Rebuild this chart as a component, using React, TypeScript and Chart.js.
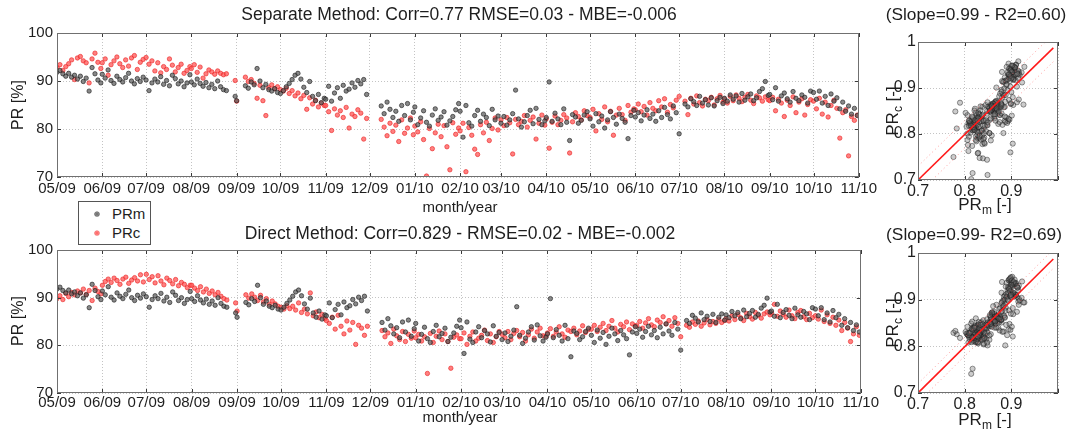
import { useEffect, useRef } from "react";
import { Chart, registerables } from "chart.js";

Chart.register(...registerables);

const FONT = '"Liberation Sans", Arial, Helvetica, sans-serif';

// Month axis: first day of each month, counted in days from 1 May 2009
const MONTH_LABELS = [
  "05/09", "06/09", "07/09", "08/09", "09/09", "10/09", "11/09", "12/09", "01/10",
  "02/10", "03/10", "04/10", "05/10", "06/10", "07/10", "08/10", "09/10", "10/10", "11/10",
];
const MONTH_START = [0, 31, 61, 92, 123, 153, 184, 214, 245, 276, 304, 335, 365, 396, 426, 457, 488, 518, 549];
// one reading every second day inside each month
const DAY_STEP = 2;

const PR_TICKS = [70, 80, 90, 100];
const SCATTER_TICKS = [0.7, 0.8, 0.9, 1.0];
const SCATTER_X_LABELS = ["0.7", "0.8", "0.9", ""];
const SCATTER_Y_LABELS = ["0.7", "0.8", "0.9", "1"];

// Fitted line of PRc against PRm
const FIT_SLOPE = 0.99;
const FIT_INTERCEPT = 0.007;
const FIT_X = [0.7, 0.99];
const RMSE_SEPARATE = 0.03;
const RMSE_DIRECT = 0.02;

type Row = (number | null)[];

// Measured performance ratio PRm [%], one row per month
const PR_MEASURED: Row[] = [
  [91.8, 92.2, 91.5, 91.0, 91.6, 90.8, 91.2, 90.4, 91.0, 89.9, 90.6, 87.9, 92.8, 91.5, 90.2, 89.6],
  [91.4, 90.6, 92.3, 90.1, 89.5, 91.0, 90.3, 89.8, 90.7, 91.6, 90.0, 89.4, 90.5, 89.9, 90.8],
  [90.2, 88.0, 89.6, 90.4, 89.8, 90.9, 89.3, 90.1, 89.0, 91.2, 90.5, 89.4, 90.0, 88.8, 89.6, 91.3],
  [89.8, 89.2, 90.4, 89.5, 88.9, 89.7, 88.6, 89.3, 88.4, 90.0, 88.8, 88.2, 88.0, null, null, 86.8],
  [85.9, null, null, 89.0, 88.5, 89.8, 89.2, 92.6, 90.0, 88.6, 89.3, 88.2, 87.9, 88.4, 87.6],
  [87.4, 88.0, 88.8, 89.5, 90.3, 91.2, 91.6, 90.4, 88.7, 87.6, 89.9, 86.8, 85.9, 87.2, 85.5, 86.4],
  [86.2, 88.9, 85.8, 87.5, 88.6, 86.4, 89.1, 87.9, 88.3, 89.6, 88.7, 90.1, 89.4, 90.3, 87.2],
  [null, null, null, null, 84.8, 83.2, 85.6, 84.1, 82.4, 83.7, 81.6, 84.9, 82.8, 85.3, 81.9, 83.5],
  [84.6, 80.9, 82.3, 83.8, 81.4, 80.6, 82.9, 84.2, 81.8, 82.5, 83.6, 80.8, 81.7, 82.6, 84.0, 85.3],
  [83.7, 78.3, 84.9, 81.3, 80.6, 82.8, 83.9, 81.6, 83.1, 82.4, 80.7, 84.1, 81.9, 82.7],
  [81.2, 82.6, 80.8, 81.9, 83.2, 88.1, 82.1, 80.4, 81.5, 82.8, 83.9, 81.1, 84.3, 82.0, 80.9, 81.7],
  [82.4, 89.8, 81.6, 83.3, 82.1, 80.9, 84.2, 81.4, 77.6, 83.0, 82.5, 81.2, 81.8, 82.9, 83.6],
  [82.1, 80.6, 83.2, 81.5, 82.7, 80.2, 81.9, 83.6, 82.4, 81.0, 83.1, 82.2, 81.4, 78.0, 82.8, 83.9],
  [82.5, 83.4, 81.7, 82.9, 84.0, 82.2, 83.1, 81.6, 83.8, 82.4, 84.5, 83.0, 82.1, 84.8, 83.4],
  [79.0, null, 85.2, 84.6, 86.3, 85.7, 84.9, 86.8, 85.4, 86.1, 85.0, 86.5, 84.8, 85.9, 86.6, 85.3],
  [86.4, 85.8, 87.1, 86.2, 86.9, 85.6, 87.4, 86.0, 86.7, 87.3, 85.9, 86.5, 87.8, 88.4, 89.9, 87.0],
  [87.2, 86.1, 88.6, 85.8, 86.9, 87.5, 86.3, 85.6, 87.8, 86.4, 85.9, 87.1, 86.6, 85.4, 87.9],
  [87.6, 86.2, 87.9, 85.4, 86.8, 84.9, 87.3, 85.8, 86.5, 84.2, 85.6, 83.7, 84.8, 83.1, 84.3, 82.8],
];

// Calculated PRc [%] with the separate method
const PR_CALC_SEPARATE: Row[] = [
  [92.8, 93.4, 92.2, 93.0, 93.6, 94.4, 90.3, 94.8, 95.1, 94.2, 93.8, 89.6, 94.6, 95.8, 93.9, 92.6],
  [93.8, 94.6, 91.2, 93.4, 94.2, 95.0, 93.6, 92.8, 94.4, 93.1, 94.8, 95.3, 92.4, 93.9, 94.5],
  [94.9, 93.5, 94.2, 92.1, 93.8, 91.7, 93.0, 92.4, 94.6, 93.3, 91.9, 92.8, 93.5, 91.6, 92.2, 93.0],
  [92.6, 93.4, 91.8, 92.9, 90.6, 91.5, 92.3, 91.9, 91.4, 92.1, 91.6, 91.3, 91.5, null, null, 90.1],
  [85.8, null, null, 90.8, 89.9, 90.3, 89.5, 86.4, 89.1, 85.9, 82.8, 88.6, 89.2, 88.4, 88.8],
  [88.2, 87.9, 88.5, 87.4, 88.0, 86.9, 87.5, 86.3, 87.0, 84.1, 86.5, 85.2, 86.0, 84.6, 85.4, 84.9],
  [84.9, 83.6, 79.7, 84.2, 82.9, 83.8, 82.4, 84.5, 80.2, 83.1, 82.6, 84.0, 83.3, 77.9, 82.2],
  [null, null, null, null, 82.0, 80.4, 78.6, 81.2, 79.5, 80.8, 77.4, 81.9, 79.1, 80.2, 82.3, 78.8],
  [80.6, 79.4, 81.5, 77.8, 70.2, 80.1, 75.9, 79.2, 81.0, 78.4, 80.7, 76.3, 71.5, 81.3, 78.9, 80.2],
  [79.6, 81.2, 71.1, 80.3, 78.7, 75.8, 74.7, 80.9, 79.2, 81.4, 77.6, 80.1, 82.3, 79.8],
  [81.9, 80.7, 82.4, 81.3, 74.8, 82.0, 80.9, 81.6, 82.8, 80.4, 81.8, 82.5, 77.9, 81.2, 82.9, 80.8],
  [82.1, 76.0, 81.4, 82.7, 80.9, 81.8, 83.0, 82.3, 75.0, 81.5, 83.4, 82.6, 81.9, 83.8, 82.8],
  [82.4, 84.1, 79.6, 83.2, 82.0, 84.6, 81.5, 83.7, 78.7, 82.9, 84.3, 83.0, 81.8, 84.9, 83.5, 84.2],
  [84.0, 85.2, 83.6, 84.7, 82.9, 85.5, 84.3, 83.8, 85.9, 84.6, 86.3, 83.5, 85.1, 84.4, 86.0],
  [86.8, null, 85.8, 83.0, 86.4, 85.2, 86.9, 85.5, 84.8, 86.2, 85.9, 86.6, 85.0, 86.3, 87.0, 85.6],
  [86.2, 85.4, 86.8, 85.9, 87.1, 86.4, 85.7, 86.6, 87.2, 86.0, 85.3, 86.9, 86.5, 85.8, 86.7, 86.1],
  [85.9, 86.6, 83.8, 86.2, 85.4, 82.6, 86.0, 84.9, 86.7, 83.4, 85.6, 86.3, 82.9, 85.1, 86.1],
  [85.8, 84.2, 86.4, 83.1, 85.6, 82.5, 84.9, 86.0, 84.3, 78.1, 83.4, 84.0, 74.4, 82.6, 81.8, 82.9],
];

// Calculated PRc [%] with the direct method
const PR_CALC_DIRECT: Row[] = [
  [89.8, 90.4, 89.6, 90.9, 90.2, 91.1, 90.6, 91.4, 91.0, 91.8, 90.7, 91.5, 89.4, 92.0, 91.3, 90.8],
  [92.6, 93.4, 93.9, 93.2, 94.1, 93.6, 92.8, 93.9, 94.3, 93.0, 93.7, 94.2, 93.5, 94.8, 93.3],
  [94.9, 93.8, 94.4, 93.1, 94.6, 93.5, 92.7, 94.1, 93.6, 92.9, 93.8, 92.5, 93.2, 92.8, 92.1, 92.6],
  [92.6, 92.0, 91.5, 92.3, 91.2, 91.8, 90.9, 91.4, 90.6, 91.1, 90.3, 89.8, 89.5, null, null, 88.9],
  [87.2, null, null, 90.6, 89.9, 90.8, 90.1, 89.4, 90.5, 89.1, 89.8, 88.6, 89.3, 88.7, 88.2],
  [88.0, 87.6, 88.3, 87.7, 88.2, 87.4, 88.9, 86.9, 87.6, 86.6, 91.0, 86.2, 87.0, 85.8, 86.5, 85.6],
  [85.2, 84.6, 85.9, 83.4, 86.3, 84.0, 82.4, 85.1, 83.2, 84.8, 80.2, 84.2, 83.6, 82.1, 84.0],
  [null, null, null, null, 83.1, 81.8, 82.6, 80.4, 83.4, 82.0, 81.2, 82.9, 80.8, 82.3, 81.5, 83.0],
  [81.6, 82.3, 80.9, 81.8, 74.1, 82.5, 80.6, 81.9, 83.0, 81.2, 82.4, 80.8, 75.2, 81.7, 82.2, 81.4],
  [81.4, 82.6, 80.2, 81.9, 82.8, 80.9, 81.5, 82.1, 83.2, 81.0, 82.4, 80.6, 81.8, 82.9],
  [82.3, 81.6, 82.9, 81.2, 82.5, 83.1, 81.8, 82.7, 80.9, 82.2, 83.4, 81.5, 82.8, 83.6, 82.0, 81.9],
  [82.6, 83.5, 81.9, 82.8, 83.9, 82.4, 81.7, 83.2, 82.9, 83.6, 82.2, 83.0, 84.1, 82.7, 83.3],
  [83.4, 84.2, 82.9, 83.8, 84.6, 83.1, 84.0, 85.2, 83.6, 82.8, 84.4, 83.9, 84.9, 83.3, 84.5, 84.1],
  [84.1, 85.0, 83.6, 84.7, 85.6, 84.3, 83.9, 85.3, 84.8, 86.0, 84.5, 85.2, 84.0, 85.8, 84.6],
  [81.8, null, 84.2, 83.8, 84.9, 84.4, 85.1, 84.0, 84.7, 85.4, 84.3, 85.0, 84.6, 85.5, 84.8, 85.2],
  [85.6, 85.1, 86.2, 85.4, 86.5, 85.8, 85.2, 86.7, 86.0, 85.5, 86.9, 86.3, 85.7, 86.6, 87.0, 86.4],
  [86.8, 88.6, 86.1, 87.2, 86.5, 85.9, 87.4, 86.2, 85.6, 86.9, 87.3, 86.0, 85.4, 86.7, 85.8],
  [86.2, 85.5, 87.4, 85.0, 86.4, 84.6, 85.9, 84.2, 85.3, 83.1, 84.8, 83.6, 80.8, 82.4, 83.9, 82.1],
];

type Pt = { x: number; y: number };

function toSeries(rows: Row[]): Pt[] {
  const out: Pt[] = [];
  rows.forEach((row, m) => {
    row.forEach((v, j) => {
      if (v !== null) out.push({ x: MONTH_START[m] + j * DAY_STEP, y: v });
    });
  });
  return out;
}

function toPairs(measured: Row[], calc: Row[]): Pt[] {
  const out: Pt[] = [];
  measured.forEach((row, m) => {
    row.forEach((pm, j) => {
      const pc = calc[m][j];
      if (pm !== null && pc !== null && pc !== undefined) out.push({ x: pm / 100, y: pc / 100 });
    });
  });
  return out;
}

function fitLine(offset: number): Pt[] {
  return FIT_X.map((x) => ({ x, y: FIT_SLOPE * x + FIT_INTERCEPT + offset }));
}

type Part = { t: string; sub?: boolean };
type Label = { parts: Part[]; x: number; y: number; size: number; rotate?: boolean };

function decorPlugin(labels: Label[]) {
  return {
    id: "panelDecor",
    afterDraw(chart: any) {
      const { ctx, chartArea: a, scales } = chart;
      ctx.save();
      // inward tick marks on all four sides
      ctx.strokeStyle = "#3a3a3a";
      ctx.lineWidth = 1;
      ctx.beginPath();
      for (const t of scales.x.ticks) {
        const px = Math.round(scales.x.getPixelForValue(t.value)) + 0.5;
        ctx.moveTo(px, a.bottom);
        ctx.lineTo(px, a.bottom - 4);
        ctx.moveTo(px, a.top);
        ctx.lineTo(px, a.top + 4);
      }
      for (const t of scales.y.ticks) {
        const py = Math.round(scales.y.getPixelForValue(t.value)) + 0.5;
        ctx.moveTo(a.left, py);
        ctx.lineTo(a.left + 4, py);
        ctx.moveTo(a.right, py);
        ctx.lineTo(a.right - 4, py);
      }
      ctx.stroke();
      // axes box
      ctx.strokeStyle = "#707070";
      ctx.strokeRect(
        Math.round(a.left) + 0.5,
        Math.round(a.top) + 0.5,
        Math.round(a.right - a.left) - 1,
        Math.round(a.bottom - a.top) - 1
      );
      // titles and axis labels
      ctx.fillStyle = "#1e1e1e";
      ctx.textBaseline = "middle";
      ctx.textAlign = "left";
      for (const lab of labels) {
        const big = `${lab.size}px ${FONT}`;
        const small = `${Math.round(lab.size * 0.72)}px ${FONT}`;
        let total = 0;
        const widths = lab.parts.map((p) => {
          ctx.font = p.sub ? small : big;
          const w = ctx.measureText(p.t).width;
          total += w;
          return w;
        });
        ctx.save();
        ctx.translate(lab.x, lab.y);
        if (lab.rotate) ctx.rotate(-Math.PI / 2);
        let cx = -total / 2;
        lab.parts.forEach((p, i) => {
          ctx.font = p.sub ? small : big;
          ctx.fillText(p.t, cx, p.sub ? lab.size * 0.35 : 0);
          cx += widths[i];
        });
        ctx.restore();
      }
      ctx.restore();
    },
  };
}

const GRID = { color: "#c4c4c4", drawTicks: false, lineWidth: 1 };
const BORDER = { display: false, dash: [1, 2] };

function timeConfig(calc: Row[], labels: Label[], padTop: number, axisH: number, tickPad: number) {
  return {
    type: "scatter",
    data: {
      datasets: [
        {
          label: "PRm",
          data: toSeries(PR_MEASURED),
          pointRadius: 2.2,
          pointBackgroundColor: "rgba(85,85,85,0.7)",
          pointBorderColor: "rgba(25,25,25,0.75)",
          pointBorderWidth: 0.8,
          order: 0,
        },
        {
          label: "PRc",
          data: toSeries(calc),
          pointRadius: 2.2,
          pointBackgroundColor: "rgba(255,85,85,0.75)",
          pointBorderColor: "rgba(235,40,40,0.8)",
          pointBorderWidth: 0.8,
          order: 1,
        },
      ],
    },
    options: {
      responsive: false,
      animation: false,
      layout: { padding: { top: padTop, right: 16, left: 0, bottom: 0 } },
      plugins: { legend: { display: false }, title: { display: false }, tooltip: { enabled: false } },
      scales: {
        x: {
          type: "linear",
          min: MONTH_START[0],
          max: MONTH_START[MONTH_START.length - 1],
          afterBuildTicks: (s: any) => {
            s.ticks = MONTH_START.map((v) => ({ value: v }));
          },
          afterFit: (s: any) => {
            s.height = axisH;
          },
          ticks: {
            autoSkip: false,
            maxRotation: 0,
            padding: tickPad,
            color: "#1e1e1e",
            font: { family: FONT, size: 15 },
            callback: (_v: any, i: number) => MONTH_LABELS[i],
          },
          grid: GRID,
          border: BORDER,
        },
        y: {
          type: "linear",
          min: 70,
          max: 100,
          afterBuildTicks: (s: any) => {
            s.ticks = PR_TICKS.map((v) => ({ value: v }));
          },
          afterFit: (s: any) => {
            s.width = 57;
          },
          ticks: { padding: 4, color: "#1e1e1e", font: { family: FONT, size: 15 } },
          grid: GRID,
          border: BORDER,
        },
      },
    },
    plugins: [decorPlugin(labels)],
  };
}

function scatterConfig(calc: Row[], rmse: number, labels: Label[], padTop: number, axisH: number) {
  return {
    type: "scatter",
    data: {
      datasets: [
        {
          label: "fit",
          data: fitLine(0),
          showLine: true,
          pointRadius: 0,
          borderColor: "#ff1a1a",
          borderWidth: 1.6,
          order: 0,
        },
        {
          label: "fit+rmse",
          data: fitLine(rmse),
          showLine: true,
          pointRadius: 0,
          borderColor: "rgba(255,120,120,0.7)",
          borderWidth: 1,
          borderDash: [1, 3],
          order: 1,
        },
        {
          label: "fit-rmse",
          data: fitLine(-rmse),
          showLine: true,
          pointRadius: 0,
          borderColor: "rgba(255,120,120,0.7)",
          borderWidth: 1,
          borderDash: [1, 3],
          order: 1,
        },
        {
          label: "pairs",
          data: toPairs(PR_MEASURED, calc),
          pointRadius: 2.6,
          pointBackgroundColor: "rgba(110,110,110,0.35)",
          pointBorderColor: "rgba(20,20,20,0.55)",
          pointBorderWidth: 0.8,
          order: 2,
        },
      ],
    },
    options: {
      responsive: false,
      animation: false,
      layout: { padding: { top: padTop, right: 14, left: 0, bottom: 0 } },
      plugins: { legend: { display: false }, title: { display: false }, tooltip: { enabled: false } },
      scales: {
        x: {
          type: "linear",
          min: 0.7,
          max: 1.0,
          afterBuildTicks: (s: any) => {
            s.ticks = SCATTER_TICKS.map((v) => ({ value: v }));
          },
          afterFit: (s: any) => {
            s.height = axisH;
          },
          ticks: {
            autoSkip: false,
            maxRotation: 0,
            padding: 2,
            color: "#1e1e1e",
            font: { family: FONT, size: 16 },
            callback: (_v: any, i: number) => SCATTER_X_LABELS[i],
          },
          grid: GRID,
          border: BORDER,
        },
        y: {
          type: "linear",
          min: 0.7,
          max: 1.0,
          afterBuildTicks: (s: any) => {
            s.ticks = SCATTER_TICKS.map((v) => ({ value: v }));
          },
          afterFit: (s: any) => {
            s.width = 38;
          },
          ticks: {
            padding: 2,
            color: "#1e1e1e",
            font: { family: FONT, size: 16 },
            callback: (_v: any, i: number) => SCATTER_Y_LABELS[i],
          },
          grid: GRID,
          border: BORDER,
        },
      },
    },
    plugins: [decorPlugin(labels)],
  };
}

function Panel({ config, left, top, width, height }: any) {
  const ref = useRef<HTMLCanvasElement | null>(null);
  useEffect(() => {
    if (!ref.current) return;
    const chart = new Chart(ref.current, config);
    return () => chart.destroy();
  }, [config]);
  return (
    <canvas
      ref={ref}
      width={width}
      height={height}
      style={{ position: "absolute", left, top, width, height }}
    />
  );
}

const PRC_LABEL: Part[] = [{ t: "PR" }, { t: "c", sub: true }, { t: " [-]" }];
const PRM_LABEL: Part[] = [{ t: "PR" }, { t: "m", sub: true }, { t: " [-]" }];

const topTime = timeConfig(
  PR_CALC_SEPARATE,
  [
    { parts: [{ t: "Separate Method: Corr=0.77 RMSE=0.03 - MBE=-0.006" }], x: 459, y: 15, size: 17.5 },
    { parts: [{ t: "PR [%]" }], x: 19, y: 105, size: 16, rotate: true },
    { parts: [{ t: "month/year" }], x: 460, y: 208, size: 15 },
  ],
  33,
  43,
  3
);

const bottomTime = timeConfig(
  PR_CALC_DIRECT,
  [
    { parts: [{ t: "Direct Method: Corr=0.829 - RMSE=0.02 - MBE=-0.002" }], x: 460, y: 14, size: 17.5 },
    { parts: [{ t: "PR [%]" }], x: 19, y: 101, size: 16, rotate: true },
    { parts: [{ t: "month/year" }], x: 460, y: 198, size: 15 },
  ],
  30,
  45,
  1
);

const topScatter = scatterConfig(
  PR_CALC_SEPARATE,
  RMSE_SEPARATE,
  [
    { parts: [{ t: "(Slope=0.99 - R2=0.60)" }], x: 96, y: 15, size: 17.3 },
    { parts: PRC_LABEL, x: 13, y: 111, size: 17, rotate: true },
    { parts: PRM_LABEL, x: 105, y: 205, size: 17 },
  ],
  42,
  40
);

const bottomScatter = scatterConfig(
  PR_CALC_DIRECT,
  RMSE_DIRECT,
  [
    { parts: [{ t: "(Slope=0.99- R2=0.69)" }], x: 94, y: 15, size: 17.3 },
    { parts: PRC_LABEL, x: 13, y: 103, size: 17, rotate: true },
    { parts: PRM_LABEL, x: 105, y: 200, size: 17 },
  ],
  33,
  45
);

function LegendBox() {
  const row = (color: string, border: string, text: string, top: number) => (
    <div style={{ position: "absolute", left: 0, top, height: 18, width: "100%" }}>
      <span
        style={{
          position: "absolute",
          left: 16,
          top: 7,
          width: 4,
          height: 4,
          borderRadius: 2,
          background: color,
          boxShadow: `0 0 0 0.6px ${border}`,
        }}
      />
      <span style={{ position: "absolute", left: 33, top: 0, lineHeight: "18px" }}>{text}</span>
    </div>
  );
  return (
    <div
      style={{
        position: "absolute",
        left: 78,
        top: 201,
        width: 73,
        height: 44,
        boxSizing: "border-box",
        border: "1px solid #555",
        background: "#fff",
        font: `15px ${FONT}`,
        color: "#1e1e1e",
      }}
    >
      {row("rgba(85,85,85,0.8)", "rgba(25,25,25,0.8)", "PRm", 3)}
      {row("rgba(255,85,85,0.85)", "rgba(235,40,40,0.8)", "PRc", 22)}
    </div>
  );
}

export default function App() {
  return (
    <div style={{ position: "absolute", left: 0, top: 0, width: 1072, height: 438, background: "#fff" }}>
      <Panel config={topTime} left={0} top={0} width={880} height={220} />
      <Panel config={bottomTime} left={0} top={220} width={880} height={218} />
      <Panel config={topScatter} left={880} top={0} width={192} height={220} />
      <Panel config={bottomScatter} left={880} top={220} width={192} height={218} />
      <LegendBox />
    </div>
  );
}
